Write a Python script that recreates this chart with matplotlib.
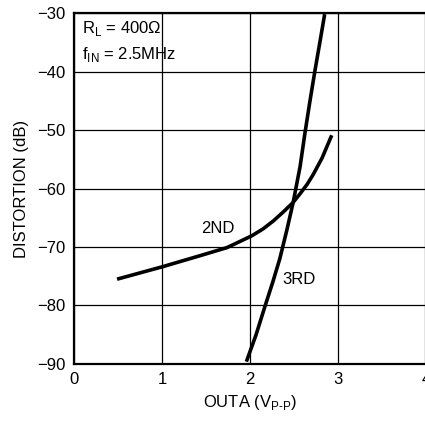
import matplotlib.pyplot as plt

# values
x_2nd = [0.49, 1.0, 1.43, 1.74, 2.02, 2.15, 2.27, 2.38, 2.49, 2.57, 2.65, 2.72, 2.82, 2.93]
y_2nd = [-75.5, -73.4, -71.5, -70.1, -68.1, -66.9, -65.5, -64.0, -62.4, -60.9, -59.3, -57.6, -54.8, -50.9]
x_3rd = [1.96, 2.07, 2.17, 2.26, 2.34, 2.42, 2.49, 2.57, 2.625, 2.68, 2.74, 2.80, 2.85]
y_3rd = [-89.6, -85.0, -80.2, -76.0, -72.0, -67.1, -62.5, -56.3, -50.6, -45.3, -39.8, -34.6, -30.2]
xticks = [0, 1, 2, 3, 4]
yticks = [-90, -80, -70, -60, -50, -40, -30]

plt.rcParams['font.family'] = ['Liberation Sans', 'DejaVu Sans']
plt.rcParams['font.size'] = 11

fig = plt.figure(figsize=(4.25, 4.21), dpi=100)
ax = fig.add_axes([0.174, 0.1354, 0.828, 0.8337])
ax.plot(x_2nd, y_2nd, color='black', lw=2.6, solid_capstyle='butt', solid_joinstyle='round')
ax.plot(x_3rd, y_3rd, color='black', lw=2.6, solid_capstyle='butt', solid_joinstyle='round')
ax.set_xlim(0, 4)
ax.set_ylim(-90, -30)
ax.set_xticks(xticks)
ax.set_yticks(yticks)
ax.set_yticklabels(['\u2212%d' % abs(v) for v in yticks])
ax.grid(True, color='black', lw=0.9)
ax.tick_params(length=0, pad=6, labelsize=12)
for s in ax.spines.values():
    s.set_linewidth(1.6)
ax.set_xlabel('OUTA (V$_{\\mathregular{P\u2010P}}$)', fontsize=12, labelpad=4)
ax.set_ylabel('DISTORTION (dB)', fontsize=12, labelpad=6)
ax.text(1.64, -66.9, '2ND', fontsize=12, ha='center', va='center')
ax.text(2.56, -75.5, '3RD', fontsize=12, ha='center', va='center')
ax.text(0.09, -31.0, 'R$_{\\mathregular{L}}$ = 400\u03a9', fontsize=12, va='top')
ax.text(0.09, -35.4, 'f$_{\\mathregular{IN}}$ = 2.5MHz', fontsize=12, va='top')
fig.savefig('out.png', dpi=100)
